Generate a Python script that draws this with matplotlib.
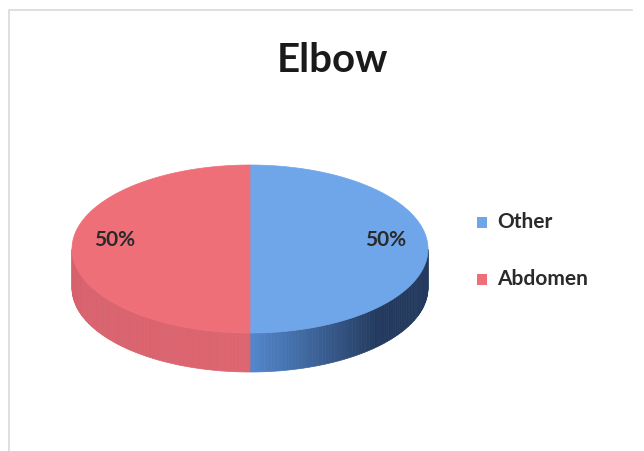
import numpy as np
import matplotlib
matplotlib.use("Agg")
import matplotlib.pyplot as plt
from matplotlib.patches import Polygon, Rectangle
from matplotlib.colors import to_rgb

# data
labels = ["Other", "Abdomen"]
values = [50, 50]
top_colors = ["#6fa6ea", "#ef6f79"]
side_light = ["#5387cc", "#dc6570"]
side_dark = ["#233a5e", "#c85862"]

fig = plt.figure(figsize=(6.44, 4.51), dpi=100)
ax = fig.add_axes([0, 0, 1, 1])
ax.set_xlim(0, 644)
ax.set_ylim(451, 0)
ax.axis("off")

# faint chart border (left and top only visible)
ax.plot([9, 9, 632], [451, 10, 10], color="#d9d9d9", lw=1.2)

# pie geometry (pixel units)
cx, cy, a, b, depth = 250, 249, 178, 84, 39

def pt(theta):
    # theta: degrees clockwise from 12 o'clock
    t = np.radians(theta)
    return cx + a * np.sin(t), cy - b * np.cos(t)

total = sum(values)
start = 0.0
wedges = []
for v in values:
    span = 360.0 * v / total
    wedges.append((start, start + span))
    start += span

def mix(c1, c2, f):
    c1, c2 = np.array(to_rgb(c1)), np.array(to_rgb(c2))
    return tuple(c1 + (c2 - c1) * f)

# side walls (front half only: 90..270 deg)
for i, (t0, t1) in enumerate(wedges):
    lo, hi = max(t0, 90), min(t1, 270)
    if hi <= lo:
        continue
    steps = np.linspace(lo, hi, 80)
    for s0, s1 in zip(steps[:-1], steps[1:]):
        m = 0.5 * (s0 + s1)
        if i == 0:
            # blue: lighter near bottom centre, dark toward right
            f = np.clip((180 - m) / 45.0, 0, 1)
        else:
            f = np.clip((m - 180) / 90.0, 0, 1) * 0.3
        col = mix(side_light[i], side_dark[i], f)
        ts = np.linspace(s0, s1, 4)
        upper = [pt(t) for t in ts]
        lower = [(x, y + depth) for x, y in upper[::-1]]
        ax.add_patch(Polygon(upper + lower, closed=True, facecolor=col,
                             edgecolor=col, lw=0.5))

# top faces
for i, (t0, t1) in enumerate(wedges):
    ts = np.linspace(t0, t1, 200)
    verts = [(cx, cy)] + [pt(t) for t in ts]
    ax.add_patch(Polygon(verts, closed=True, facecolor=top_colors[i],
                         edgecolor=top_colors[i], lw=0.5))

# percentage labels
for i, (t0, t1) in enumerate(wedges):
    mid = 0.5 * (t0 + t1)
    t = np.radians(mid)
    x = cx + 0.76 * a * np.sin(t)
    y = cy - 0.75 * b * np.cos(t) - 9
    ax.text(x, y, f"{values[i] / total:.0%}", ha="center", va="center",
            fontsize=15, fontweight="bold", family="Lato",
            color="#2a2a2a")

# title
ax.text(332, 60, "Elbow", ha="center", va="center", fontsize=29,
        fontweight="bold", family="Lato", color="#1a1a1a")

# legend
leg_y = [222, 279]
for i, lab in enumerate(labels):
    ax.add_patch(Rectangle((477, leg_y[i] - 5.5), 10, 11,
                           facecolor=top_colors[i], edgecolor="none"))
    ax.text(497, leg_y[i], lab, ha="left", va="center", fontsize=15,
            fontweight="bold", family="Lato", color="#2a2a2a")

fig.savefig("out.png", dpi=100, facecolor="white")
